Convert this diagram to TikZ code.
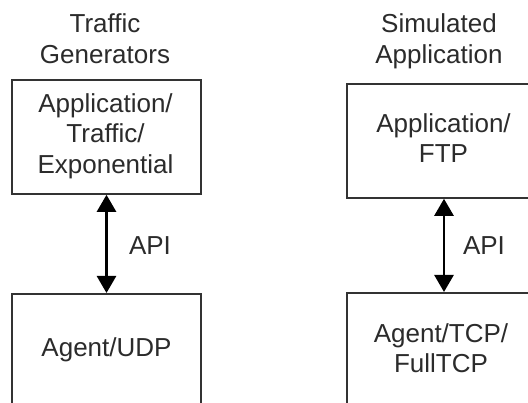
\documentclass[tikz,border=0pt]{standalone}
\usepackage{fontspec}
\setmainfont{Liberation Sans}
\usetikzlibrary{arrows.meta}
\definecolor{ink}{HTML}{2B2B2B}
\definecolor{edge}{HTML}{333333}
\tikzset{
  lbl/.style={inner sep=0pt, align=center, text=ink, font=\fontsize{26}{30.5}\selectfont},
  boxnode/.style={draw=edge, line width=1.6pt, inner sep=0pt},
  biarrow/.style={draw=black, line width=2.6pt, {Triangle[length=17pt,width=19pt]}-{Triangle[length=17pt,width=19pt]}, shorten <=0pt, shorten >=0pt}
}
\begin{document}
\begin{tikzpicture}[x=1pt,y=-1pt]
\useasboundingbox (0,0) rectangle (528,403);
\clip (0,0) rectangle (528,403);
\fill[white] (0,0) rectangle (528,403);
% titles
\node[lbl] (t1) at (105,38.8) {Traffic\\Generators};
\node[lbl] (t2) at (439,41.5) {Simulated\\Application};
% boxes
\node[boxnode, minimum width=189pt, minimum height=114pt] (app1) at (106.5,137) {};
\node[boxnode, minimum width=194pt, minimum height=114pt] (app2) at (444,141) {};
\node[boxnode, minimum width=189pt, minimum height=160pt, anchor=north] (ag1) at (106.5,293) {};
\node[boxnode, minimum width=194pt, minimum height=160pt, anchor=north] (ag2) at (444,292) {};
% box texts
\node[lbl] (app1t) at (105.5,136.2) {Application/\\Traffic/\\Exponential};
\node[lbl] (app2t) at (443.5,138) {Application/\\FTP};
\node[lbl] (ag1t) at (106.5,349.7) {Agent/UDP};
\node[lbl] (ag2t) at (441,348) {Agent/TCP/\\FullTCP};
% arrows
\draw[biarrow] (app1.south) -- (ag1.north);
\draw[biarrow] (app2.south) -- (ag2.north);
\node[lbl] (api1) at (150,245.7) {API};
\node[lbl] (api2) at (484,245.7) {API};
\end{tikzpicture}
\end{document}
